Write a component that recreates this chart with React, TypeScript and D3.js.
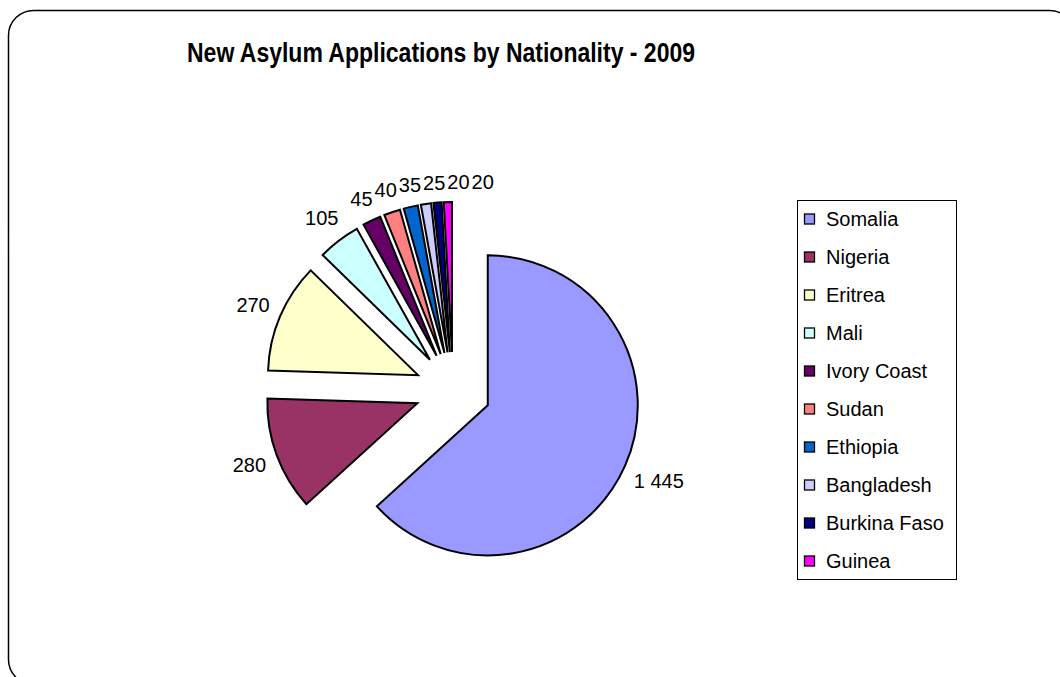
import React from "react";
import * as d3 from "d3";

const categories = ["Somalia", "Nigeria", "Eritrea", "Mali", "Ivory Coast", "Sudan", "Ethiopia", "Bangladesh", "Burkina Faso", "Guinea"];
const values = [1445, 280, 270, 105, 45, 40, 35, 25, 20, 20];
const valueLabels = ["1 445", "280", "270", "105", "45", "40", "35", "25", "20", "20"];
const colors = ["#9999FF", "#993366", "#FFFFCC", "#CCFFFF", "#660066", "#FF8080", "#0066CC", "#CCCCFF", "#000080", "#FF00FF"];
const title = "New Asylum Applications by Nationality - 2009";

const W = 1060;
const H = 677;
const FONT = "'Liberation Sans', Arial, Helvetica, sans-serif";

export default function App() {
  const cx = 453;
  const cy = 390;
  const R = 150;
  const explode = 38;
  const labelFont = 20;
  const labelH = 20;
  const labelBase = 198;

  const pie = d3.pie<number>().sort(null).startAngle(0).endAngle(2 * Math.PI);
  const arcs = pie(values);
  const arcGen = d3.arc<d3.PieArcDatum<number>>().innerRadius(0).outerRadius(R);

  // text width estimate (digits .556em, space .278em)
  const textW = (s: string) =>
    s.split("").reduce((a, ch) => a + (ch === " " ? 0.278 : 0.556), 0) * labelFont;

  const labels = arcs.map((a, i) => {
    const mid = (a.startAngle + a.endAngle) / 2;
    const ux = Math.sin(mid);
    const uy = -Math.cos(mid);
    const w = textW(valueLabels[i]);
    const L = labelBase + (w / 2) * Math.abs(ux) + (labelH / 2) * Math.abs(uy);
    return { x: cx + L * ux, y: cy + L * uy, w, text: valueLabels[i] };
  });
  // simple overlap resolution: push an overlapping label to the right of the previous one
  for (let i = 1; i < labels.length; i++) {
    const p = labels[i - 1];
    const c = labels[i];
    const minDx = (p.w + c.w) / 2 + 2;
    const overlapY = Math.abs(p.y - c.y) < labelH;
    const overlapX = Math.abs(c.x - p.x) < minDx;
    if (overlapY && overlapX) {
      c.x = p.x + minDx;
    }
  }

  const legendX = 797;
  const legendY = 200;
  const legendW = 159;
  const legendH = 379;
  const itemStep = 38;
  const firstItemY = 219;

  return (
    <svg width={W} height={H} style={{ position: "absolute", left: 0, top: 0, background: "#fff" }} fontFamily={FONT}>
      <rect x={8.5} y={10.5} width={1066} height={674} rx={25} ry={25} fill="#fff" stroke="#000" strokeWidth={1.5} />
      <text x={441} y={62} textAnchor="middle" fontSize={27} fontWeight="bold" fill="#000" textLength={508} lengthAdjust="spacingAndGlyphs">
        {title}
      </text>
      <g>
        {arcs.map((a, i) => {
          const mid = (a.startAngle + a.endAngle) / 2;
          const dx = explode * Math.sin(mid);
          const dy = -explode * Math.cos(mid);
          return (
            <path
              key={categories[i]}
              d={arcGen(a) || ""}
              transform={`translate(${cx + dx},${cy + dy})`}
              fill={colors[i]}
              stroke="#000"
              strokeWidth={2}
              strokeLinejoin="miter"
            />
          );
        })}
      </g>
      <g>
        {labels.map((l, i) => (
          <text key={i} x={l.x} y={l.y} textAnchor="middle" dominantBaseline="central" fontSize={labelFont} fill="#000">
            {l.text}
          </text>
        ))}
      </g>
      <g>
        <rect x={legendX + 0.5} y={legendY + 0.5} width={legendW} height={legendH} fill="#fff" stroke="#000" strokeWidth={1} />
        {categories.map((c, i) => {
          const y = firstItemY + i * itemStep;
          return (
            <g key={c}>
              <rect x={804.5} y={y - 5} width={10} height={10} fill={colors[i]} stroke="#000" strokeWidth={1.3} />
              <text x={826} y={y} dominantBaseline="central" fontSize={20} fill="#000">
                {c}
              </text>
            </g>
          );
        })}
      </g>
    </svg>
  );
}
